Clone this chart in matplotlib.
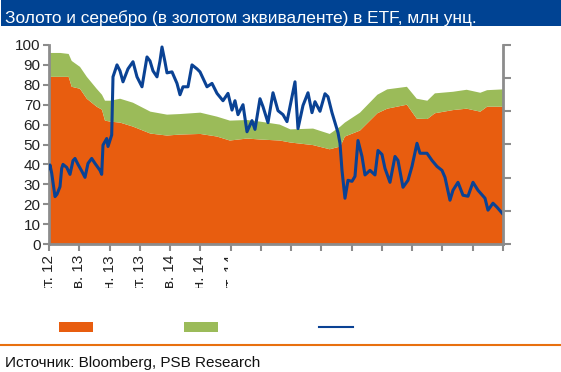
import matplotlib
matplotlib.use("Agg")
import matplotlib.pyplot as plt
import matplotlib.font_manager as fm
from matplotlib.patches import Rectangle
from matplotlib.lines import Line2D
from matplotlib.transforms import Bbox
import numpy as np

# --- data (months since Oct 2012) ---
months_area = [0, 1.5, 2.6, 3.0, 4.1, 5.0, 6.3, 7.0, 7.4, 8.1, 9.4, 11.1, 13.4, 15.6,
               17.3, 20.0, 22.2, 23.9, 26.2, 27.9, 30.5, 31.9, 34.9, 37.1, 38.5, 39.1,
               41.1, 43.4, 44.7, 47.3, 48.6, 50.0, 51.0, 53.4, 55.2, 57.0, 57.9, 60.0]
gold = [84, 84, 84, 79, 78, 73, 69, 67.5, 62, 61.5, 61, 59, 55.5, 54.5,
        55, 55.3, 54, 52, 53, 52.5, 52, 51, 49.7, 47.6, 49, 54,
        57, 65.7, 68, 70, 63, 62.8, 65.7, 67.3, 68, 66.5, 69, 69]
total = [96, 96, 95.5, 92, 89, 84, 78, 75, 72, 72, 73, 71, 66.5, 65,
         65.3, 66, 64, 62, 62.3, 61.5, 60, 57.6, 58, 55.3, 59, 61,
         66, 75, 77.7, 79, 73, 72, 75.7, 76.5, 77.5, 76, 77.3, 77.7]
silver = [t - g for t, g in zip(total, gold)]

line_px = [49, 50, 51.7, 55, 57, 60, 61.7, 63, 66.7, 70, 73, 75, 78, 81.7, 85, 88, 91.7,
           95, 100, 101.7, 103, 106.7, 108, 111.7, 113, 117, 120, 123, 128, 133, 137, 142,
           147, 150, 153, 157, 160, 162, 165, 167, 172, 177, 180, 183, 188, 192, 197, 200,
           207, 212, 217, 223, 228, 232, 235, 238, 243, 247, 252, 255, 260, 263, 268, 273,
           278, 283, 287, 292, 295, 298, 303, 308, 312, 315, 320, 325, 328, 332, 335, 338,
           340, 342, 345, 348, 352, 355, 358, 362, 365, 370, 375, 378, 382, 385, 390, 395,
           398, 403, 408, 412, 417, 420, 427, 432, 437, 442, 445, 450, 453, 458, 463, 468,
           473, 478, 485, 488, 493, 497, 503]
line_vals = [38, 39.7, 35.6, 23.8, 25, 28.8, 38, 40, 38.5, 35, 41.9, 43, 40, 36.7, 33.5,
             40.5, 43, 40.5, 37, 35, 49.7, 53, 49, 54.8, 84, 90, 87, 81.5, 88, 91.6, 84, 79,
             94, 92, 87, 84, 92, 99, 91.5, 86, 86.5, 80.7, 75, 79, 79, 90, 88, 86.5,
             79, 80.7, 75.7, 72, 75.7, 67.3, 72, 65, 70, 56.4, 62, 57.6, 73, 69, 61, 76,
             67, 65, 61.5, 74, 81.5, 58, 69.6, 76, 66, 71.5, 66.7, 75.5, 74, 66, 61, 56,
             50.6, 37, 23, 32, 31.5, 34, 52, 44, 34.7, 37, 34.7, 47, 45, 38, 31, 44,
             42, 28.5, 32, 39, 50.6, 45.6, 45.6, 42, 39, 37, 33.5, 22, 27, 31, 24.5, 24,
             31, 27, 23, 17, 20.5, 18.5, 15]
months_line = [(p - 49) / 7.567 for p in line_px]

tick_months = list(range(0, 61, 4))
tick_labels = ["окт. 12", "фев. 13", "июн. 13", "окт. 13", "фев. 14", "июн. 14",
               "окт. 14", "фев. 15", "июн. 15", "окт. 15", "фев. 16", "июн. 16",
               "окт. 16", "фев. 17", "июн. 17", "окт. 17"]

title = "Золото и серебро (в золотом эквиваленте) в ETF, млн унц."
source = "Источник: Bloomberg, PSB Research"

ORANGE = "#E85D0F"
GREEN = "#9BBB59"
BLUE = "#0A4294"
NAVY = "#004393"
GREY = "#8C8C8C"

names = {f.name for f in fm.fontManager.ttflist}
base = "Liberation Sans" if "Liberation Sans" in names else "DejaVu Sans"
narrow = "Liberation Sans Narrow" if "Liberation Sans Narrow" in names else base
plt.rcParams["font.family"] = [base, "DejaVu Sans"]

W, H = 561, 372
fig = plt.figure(figsize=(W / 100, H / 100), dpi=100)

# title bar
fig.add_artist(Rectangle((1 / W, 1 - 26 / H), 1, 26 / H, transform=fig.transFigure,
                         color=NAVY, lw=0))
fig.text(5 / W, 1 - 23 / H, title, color="white", family=[narrow, "DejaVu Sans"],
         fontsize=14 if narrow != base else 12.4, va="baseline", ha="left")

ax = fig.add_axes([49 / W, 1 - 244 / H, (503 - 49) / W, (244 - 45) / H])
ax.stackplot(months_area, gold, silver, colors=[ORANGE, GREEN], linewidth=0)
ax.set_xlim(0, 60)
ax.set_ylim(0, 100)
ax.set_yticks(range(0, 101, 10))
ax.set_xticks(tick_months)
ax.set_xticklabels(tick_labels, rotation=90, fontsize=11, color="#222222")
ax.tick_params(axis="y", length=4, width=1.5, color=GREY, labelsize=11,
               labelcolor="#222222", pad=2)
ax.tick_params(axis="x", length=5, width=1.5, color=GREY, pad=3)
for s in ["top", "right"]:
    ax.spines[s].set_visible(False)
for s in ["left", "bottom"]:
    ax.spines[s].set_color(GREY)
    ax.spines[s].set_linewidth(2)

clip = Bbox.from_extents(0, H - 288, 228, H - 240)
for lab in ax.get_xticklabels():
    lab.set_clip_box(clip)
    lab.set_clip_on(True)

ax2 = ax.twinx()
ax2.plot(months_line, line_vals, color=BLUE, lw=2.2)
ax2.set_ylim(0, 100)
ax2.set_yticks(np.linspace(0, 100, 7))
ax2.set_yticklabels([])
ax2.tick_params(axis="y", length=6, width=1.5, color=GREY)
for s in ["top", "left", "bottom"]:
    ax2.spines[s].set_visible(False)
ax2.spines["right"].set_color(GREY)
ax2.spines["right"].set_linewidth(2)

# legend swatches (no text in the original)
fig.add_artist(Rectangle((59 / W, 1 - 332 / H), 34 / W, 10 / H, transform=fig.transFigure,
                         color=ORANGE, lw=0))
fig.add_artist(Rectangle((184 / W, 1 - 332 / H), 34 / W, 10 / H, transform=fig.transFigure,
                         color=GREEN, lw=0))
fig.add_artist(Line2D([319 / W, 353 / W], [1 - 327 / H] * 2, transform=fig.transFigure,
                      color=BLUE, lw=1.5))

# source line
fig.add_artist(Line2D([0, 1], [1 - 344.5 / H] * 2, transform=fig.transFigure,
                      color="#E8700F", lw=1.5))
fig.text(5 / W, 1 - 367 / H, source, fontsize=11, color="#111111", va="baseline")

fig.savefig("out.png", dpi=100)
